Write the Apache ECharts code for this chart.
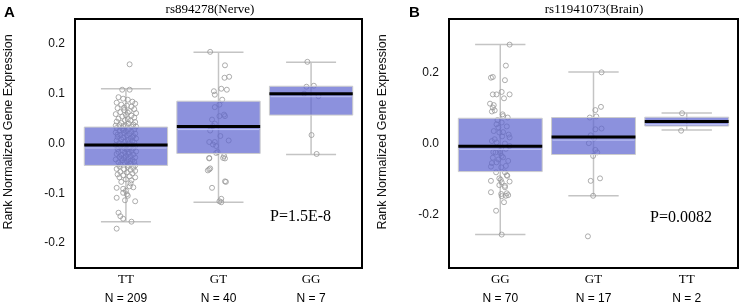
<!DOCTYPE html>
<html>
<head>
<meta charset="utf-8">
<style>
  html, body { margin: 0; padding: 0; background: #fff; }
  #chart { width: 743px; height: 307px; }
</style>
</head>
<body>
<div id="chart"></div>
<script src="https://cdn.jsdelivr.net/npm/echarts@6/dist/echarts.min.js"></script>
<script>
// panel A: rs894278 (Nerve)
var catsA = ['TT', 'GT', 'GG'];
var nA = [209, 40, 7];
// [min, Q1, median, Q3, max]
var boxA = [
  [-0.157, -0.044, -0.003, 0.033, 0.110],
  [-0.118, -0.020, 0.034, 0.085, 0.183],
  [-0.022, 0.057, 0.100, 0.115, 0.163]
];
// panel B: rs11941073 (Brain)
var catsB = ['GG', 'GT', 'TT'];
var nB = [70, 17, 2];
var boxB = [
  [-0.256, -0.079, -0.008, 0.071, 0.278],
  [-0.147, -0.031, 0.018, 0.073, 0.201],
  [0.038, 0.049, 0.062, 0.074, 0.086]
];

// jittered points, [x offset, value]
var ptsA_TT = [
  [0.04,0.159],[-0.04,0.108],[0.04,0.108],
  [-0.08,0.093],[-0.03,0.09],[0.02,0.088],[0.07,0.084],[-0.1,0.082],[0.1,0.08],[-0.05,0.078],[0.01,0.076],
  [0.06,0.074],[-0.09,0.071],[0.09,0.069],[-0.02,0.067],[0.04,0.065],[-0.06,0.063],[0.11,0.061],[-0.11,0.059],
  [0.0,0.057],[0.06,0.056],[-0.04,0.054],[0.09,0.052],[-0.08,0.05],[0.02,0.049],[-0.01,0.047],[0.05,0.046],
  [-0.1,0.044],[0.1,0.043],[-0.05,0.041],[0.03,0.04],[0.08,0.038],[-0.07,0.037],[0.0,0.036],[-0.03,0.035],
  [0.06,0.034],[0.11,0.034],[-0.11,0.036],[0.02,0.062],[-0.02,0.072],
  [-0.10,0.031],[-0.04,0.030],[0.03,0.029],[0.09,0.028],[-0.07,0.026],[0.0,0.025],[0.06,0.024],[-0.11,0.022],
  [-0.02,0.021],[0.1,0.02],[0.04,0.019],[-0.06,0.017],[0.01,0.016],[0.08,0.015],[-0.09,0.013],[-0.03,0.012],
  [0.05,0.011],[0.11,0.010],[-0.05,0.008],[0.02,0.007],[-0.1,0.006],[0.07,0.005],[-0.01,0.004],[0.09,0.002],
  [-0.07,0.001],[0.03,0.0],[-0.04,-0.001],[0.06,-0.002],[-0.11,-0.003],[0.0,-0.004],[0.1,-0.005],[-0.06,-0.006],
  [0.04,-0.008],[-0.02,-0.009],[0.08,-0.010],[-0.09,-0.011],[0.01,-0.012],[-0.04,-0.014],[0.06,-0.015],[0.11,-0.016],
  [-0.08,-0.017],[-0.01,-0.018],[0.03,-0.020],[-0.1,-0.021],[0.08,-0.022],[-0.05,-0.023],[0.0,-0.025],[0.05,-0.026],
  [-0.07,-0.027],[0.1,-0.028],[-0.02,-0.029],[0.03,-0.031],[-0.11,-0.032],[0.07,-0.033],[-0.04,-0.034],[0.01,-0.036],
  [0.09,-0.037],[-0.08,-0.038],[-0.01,-0.039],[0.05,-0.040],[-0.06,-0.042],[0.02,-0.043],[0.1,-0.044],[-0.09,0.018],
  [0.05,-0.035],[-0.03,0.027],[0.07,0.013],[-0.08,-0.007],[0.03,-0.017],[-0.05,-0.03],
  [-0.07,-0.046],[0.02,-0.047],[0.08,-0.049],[-0.1,-0.051],[-0.02,-0.052],[0.05,-0.053],[0.1,-0.055],[-0.06,-0.057],
  [0.01,-0.058],[0.07,-0.06],[-0.09,-0.062],[-0.03,-0.064],[0.04,-0.066],[0.1,-0.068],[-0.07,-0.068],[0.0,-0.072],
  [0.06,-0.074],[-0.05,-0.077],[0.05,-0.08],[-0.1,-0.089],[0.04,-0.086],[0.08,-0.088],[-0.03,-0.091],[0.0,-0.095],
  [-0.03,-0.099],[0.01,-0.102],[-0.1,-0.109],[0.02,-0.105],[0.1,-0.116],[-0.01,-0.114],[-0.08,-0.139],[-0.06,-0.146],
  [-0.03,-0.151],[0.06,-0.157],[-0.1,-0.171]
];
var ptsA_GT = [
  [-0.09,0.184],[0.07,0.157],[0.065,0.132],[0.115,0.134],[0.03,0.110],[0.09,0.108],[-0.05,0.105],[-0.04,0.098],
  [0.01,0.078],[-0.04,0.073],[0.06,0.058],[0.01,0.055],[0.07,0.055],[-0.04,0.040],[-0.06,0.035],[-0.09,0.026],
  [-0.1,0.003],[-0.04,0.003],[-0.06,-0.002],[0.11,0.006],[-0.025,-0.005],[-0.025,-0.019],[-0.01,-0.017],
  [0.06,-0.025],[-0.1,-0.030],[0.07,-0.030],[-0.09,-0.050],[-0.115,-0.054],[0.07,-0.076],[-0.07,-0.089],
  [0.03,-0.111],[0.01,-0.116],[-0.1,-0.029],[0.05,-0.029],[-0.1,-0.052],[0.08,-0.077],[0.03,-0.118],
  [0.02,0.015],[-0.07,0.048],[0.04,0.088]
];
var ptsA_GG = [
  [-0.04,0.164],[-0.05,0.114],[0.03,0.116],[-0.075,0.100],[0.08,0.095],[0.005,0.017],[0.06,-0.021]
];
var ptsB_GG = [
  [0.10,0.278],[0.06,0.219],[-0.08,0.187],[-0.1,0.185],[0.05,0.178],[-0.08,0.138],[-0.04,0.138],[0.015,0.145],
  [0.10,0.138],[0.04,0.127],[-0.11,0.112],[-0.07,0.108],[-0.08,0.101],[-0.06,0.093],[-0.09,0.090],[0.025,0.082],
  [0.03,0.077],[0.08,0.073],[-0.04,0.054],[0.015,0.059],[0.07,0.048],[-0.02,0.045],[-0.07,0.035],[-0.01,0.031],
  [0.03,0.032],[0.1,0.017],[-0.09,0.007],[-0.04,0.003],[0.1,-0.007],[0.0,-0.021],[-0.05,-0.025],[0.015,-0.035],
  [-0.075,-0.024],[0.0,-0.027],[0.03,-0.039],[-0.04,-0.053],[-0.09,-0.055],[0.06,-0.063],[0.085,-0.049],[0.01,-0.067],
  [-0.045,-0.081],[0.05,-0.081],[0.07,-0.089],[0.005,-0.102],[-0.1,-0.105],[0.015,-0.109],[0.1,-0.107],[-0.01,-0.117],
  [0.05,-0.119],[-0.1,-0.137],[0.01,-0.142],[0.06,-0.147],[0.085,-0.145],[0.015,-0.148],[0.04,-0.165],[-0.045,-0.189],
  [0.015,-0.256],[-0.01,-0.098],[0.075,-0.091],[0.05,-0.123],[0.07,-0.140],[-0.06,0.012],[0.05,0.000],[-0.02,-0.045],
  [0.09,0.025],[-0.1,-0.065],[-0.03,0.066],[0.06,-0.015],[-0.08,-0.040],[0.02,0.020]
];
var ptsB_GT = [
  [0.086,0.200],[0.08,0.103],[0.02,0.094],[0.03,0.076],[-0.04,0.073],[0.02,0.040],[0.086,0.042],[-0.03,0.023],
  [-0.05,0.001],[0.006,0.014],[0.02,-0.018],[0.04,-0.025],[-0.004,-0.035],[-0.03,-0.105],[0.07,-0.098],
  [-0.004,-0.147],[-0.06,-0.261]
];
var ptsB_TT = [[-0.05,0.085],[-0.06,0.036]];

var serif = '"Liberation Serif", "DejaVu Serif", serif';
var sans = '"Liberation Sans", Arial, sans-serif';

function toPts(groups) {
  var out = [];
  groups.forEach(function (g, i) {
    g.forEach(function (p) { out.push([i + p[0], p[1]]); });
  });
  return out;
}

function whiskerItem(params, api) {
  var i = api.value(0);
  var lo = api.coord([i, api.value(1)]);
  var hi = api.coord([i, api.value(5)]);
  var cl = api.coord([i - 0.27, 0])[0];
  var cr = api.coord([i + 0.27, 0])[0];
  var st = { stroke: '#c4c4c4', lineWidth: 1.5 };
  return {
    type: 'group',
    children: [
      { type: 'line', shape: { x1: lo[0], y1: lo[1], x2: hi[0], y2: hi[1] }, style: st },
      { type: 'line', shape: { x1: cl, y1: lo[1], x2: cr, y2: lo[1] }, style: st },
      { type: 'line', shape: { x1: cl, y1: hi[1], x2: cr, y2: hi[1] }, style: st }
    ]
  };
}

function boxItem(params, api) {
  var i = api.value(0);
  var tl = api.coord([i - 0.45, api.value(4)]);
  var br = api.coord([i + 0.45, api.value(2)]);
  var md = api.coord([i, api.value(3)])[1];
  return {
    type: 'group',
    children: [
      { type: 'rect', shape: { x: tl[0], y: tl[1], width: br[0] - tl[0], height: br[1] - tl[1] },
        style: { fill: 'rgba(96,103,208,0.72)', stroke: '#cdcdcd', lineWidth: 1 } },
      { type: 'line', shape: { x1: tl[0] + 1, y1: md + 3, x2: br[0] - 1, y2: md + 3 },
        style: { stroke: 'rgba(205,210,250,0.8)', lineWidth: 1 } },
      { type: 'line', shape: { x1: tl[0], y1: md, x2: br[0], y2: md },
        style: { stroke: '#000', lineWidth: 3 } }
    ]
  };
}

function xAxisFor(idx, cats, ns) {
  return {
    type: 'value', gridIndex: idx, min: -0.55, max: 2.55,
    axisLine: { show: false },
    splitLine: { show: false },
    axisTick: { show: true, customValues: [-0.55, 2.55], length: 5, lineStyle: { color: '#000', width: 1.5 } },
    axisLabel: {
      customValues: [0, 1, 2], margin: 2,
      formatter: function (v) {
        var k = Math.round(v);
        return '{g|' + cats[k] + '}\n{n|N = ' + ns[k] + '}';
      },
      rich: {
        g: { fontFamily: serif, fontSize: 13, color: '#000', lineHeight: 19 },
        n: { fontFamily: sans, fontSize: 12, color: '#000', lineHeight: 19 }
      }
    }
  };
}

function yAxisFor(idx, lim, labels) {
  return {
    type: 'value', gridIndex: idx, min: -lim, max: lim,
    axisLine: { show: false },
    splitLine: { show: false },
    axisTick: { show: true, customValues: [-lim, lim], length: 5, lineStyle: { color: '#000', width: 1.5 } },
    axisLabel: {
      customValues: labels, margin: 10,
      fontFamily: sans, fontSize: 12, color: '#111',
      formatter: function (v) { return v.toFixed(1); }
    }
  };
}

function seriesFor(idx, box, groups) {
  var bd = box.map(function (b, i) { return [i].concat(b); });
  return [
    { type: 'custom', xAxisIndex: idx, yAxisIndex: idx, z: 1, renderItem: whiskerItem,
      encode: { x: 0, y: [1, 2, 3, 4, 5] }, data: bd, silent: true },
    { type: 'scatter', xAxisIndex: idx, yAxisIndex: idx, z: 2, symbol: 'circle', symbolSize: 5,
      itemStyle: { color: 'rgba(255,255,255,0)', borderColor: '#999', borderWidth: 1 },
      data: toPts(groups), silent: true },
    { type: 'custom', xAxisIndex: idx, yAxisIndex: idx, z: 3, renderItem: boxItem,
      encode: { x: 0, y: [1, 2, 3, 4, 5] }, data: bd, silent: true }
  ];
}

var chart = echarts.init(document.getElementById('chart'));
chart.setOption({
  animation: false,
  grid: [
    { left: 75, top: 19, width: 287, height: 249, show: true, borderColor: '#000', borderWidth: 2 },
    { left: 449, top: 19, width: 289, height: 249, show: true, borderColor: '#000', borderWidth: 2 }
  ],
  xAxis: [xAxisFor(0, catsA, nA), xAxisFor(1, catsB, nB)],
  yAxis: [yAxisFor(0, 0.25, [-0.2, -0.1, 0, 0.1, 0.2]), yAxisFor(1, 0.35, [-0.2, 0, 0.2])],
  series: seriesFor(0, boxA, [ptsA_TT, ptsA_GT, ptsA_GG])
    .concat(seriesFor(1, boxB, [ptsB_GG, ptsB_GT, ptsB_TT])),
  graphic: [
    { type: 'text', x: 4, y: 5, style: { text: 'A', font: 'bold 15px ' + sans, fill: '#000' } },
    { type: 'text', x: 409, y: 5, style: { text: 'B', font: 'bold 15px ' + sans, fill: '#000' } },
    { type: 'text', x: 210, y: 10, style: { text: 'rs894278(Nerve)', font: '13px ' + serif, fill: '#000', align: 'center', verticalAlign: 'middle' } },
    { type: 'text', x: 594, y: 10, style: { text: 'rs11941073(Brain)', font: '13px ' + serif, fill: '#000', align: 'center', verticalAlign: 'middle' } },
    { type: 'text', x: 9, y: 132, rotation: Math.PI / 2,
      style: { text: 'Rank Normalized Gene Expression', font: '12.5px ' + sans, fill: '#111', align: 'center', verticalAlign: 'middle' } },
    { type: 'text', x: 383, y: 132, rotation: Math.PI / 2,
      style: { text: 'Rank Normalized Gene Expression', font: '12.5px ' + sans, fill: '#111', align: 'center', verticalAlign: 'middle' } },
    { type: 'text', x: 270, y: 217, style: { text: 'P=1.5E-8', font: '16px ' + serif, fill: '#000', verticalAlign: 'middle' } },
    { type: 'text', x: 650, y: 218, style: { text: 'P=0.0082', font: '16px ' + serif, fill: '#000', verticalAlign: 'middle' } }
  ]
});
</script>
</body>
</html>
